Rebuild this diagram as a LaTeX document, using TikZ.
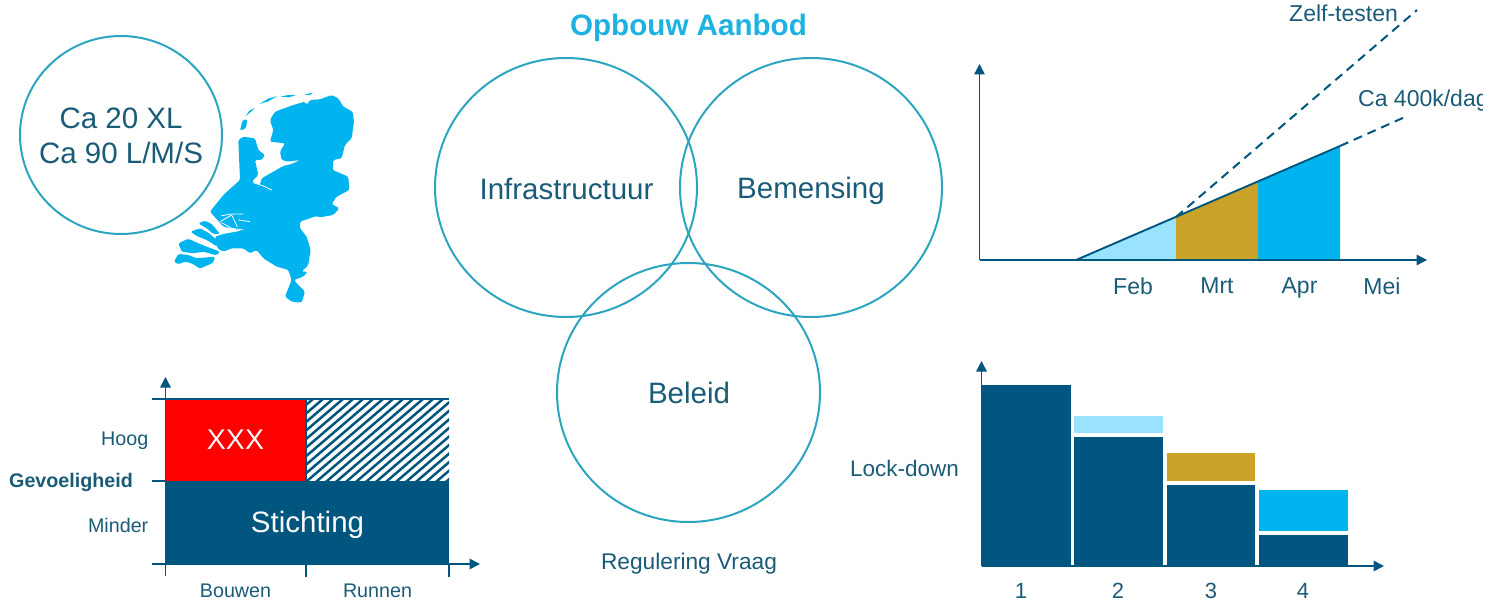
\documentclass[tikz,border=0pt]{standalone}
\usepackage{fontspec}
\setmainfont{Liberation Sans}
\usetikzlibrary{arrows.meta,shapes.geometric}
\definecolor{dark}{HTML}{00567F}
\definecolor{inktext}{HTML}{1A5B78}
\definecolor{ring}{HTML}{2BA5C0}
\definecolor{sky}{HTML}{00B4F0}
\definecolor{pale}{HTML}{99E3FF}
\definecolor{gold}{HTML}{C9A227}
\definecolor{titleblue}{HTML}{1DB2E2}
\newcommand{\fs}[1]{\fontsize{#1}{#1}\selectfont}
\tikzset{
  x=1pt,y=-1pt,
  ringnode/.style={ellipse,draw=ring,line width=2pt,inner sep=0pt},
  lab/.style={inner sep=0pt,text=inktext,font=\fs{#1}},
  axisline/.style={draw=dark,line width=1.5pt},
  axisarrow/.style={axisline,-{Triangle[length=10.5pt,width=10.5pt]}},
  dashline/.style={draw=dark,line width=2pt,dash pattern=on 9pt off 6pt},
  mapfill/.style={fill=sky,draw=none,rounded corners=1.5pt},
  river/.style={draw=white,line width=0.8pt}
}
\begin{document}
\begin{tikzpicture}
\useasboundingbox (0,0) rectangle (1487,604);
% ---- top-left circle
\node[ringnode,minimum width=202pt,minimum height=198pt] (size) at (121,135) {};
\node[lab=29.5,align=center] (sizetext) at (121,136) {Ca 20 XL\\[6pt]Ca 90 L/M/S};
% ---- map
\begin{scope}[shift={(160,80)},x=0.3333pt,y=-0.3333pt]
\path[mapfill] (515,45)--(535,55)--(550,80)--(578,95)--(582,125)--(575,175)--(555,195)--(545,235)--(520,240)--(518,270)--(565,290)--(568,330)--(530,350)--(515,372)--(538,385)--(520,405)--(480,412)--(470,408)--(420,425)--(420,445)--(440,470)--(452,510)--(445,555)--(425,575)--(443,575)--(430,590)--(402,600)--(415,615)--(435,635)--(425,668)--(395,665)--(375,650)--(385,625)--(395,600)--(385,570)--(350,560)--(310,535)--(290,510)--(270,520)--(250,505)--(215,505)--(190,515)--(172,505)--(165,470)--(190,462)--(245,452)--(190,440)--(150,395)--(190,345)--(240,300)--(235,180)--(250,170)--(285,175)--(295,210)--(315,225)--(305,240)--(285,240)--(295,285)--(275,305)--(300,315)--(305,295)--(340,275)--(370,258)--(395,252)--(420,240)--(385,245)--(365,240)--(360,215)--(375,190)--(330,185)--(340,150)--(330,120)--(345,95)--(400,75)--(435,65)--(440,75)--(450,60)--(480,58)--cycle;
\path[mapfill] (240,152)--(248,120)--(262,118)--(258,145)--cycle;
\path[fill=sky] (258,108)--(268,92)--(285,84)--(270,98)--cycle;
\path[fill=sky] (298,72)--(325,56)--(352,48)--(325,64)--cycle;
\path[fill=sky] (362,50)--(385,45)--(408,46)--(385,52)--cycle;
\path[fill=sky] (432,44)--(460,38)--(450,45)--cycle;
\path[mapfill] (115,430)--(135,422)--(155,432)--(180,462)--(160,462)--(140,445)--cycle;
\path[mapfill] (92,455)--(120,445)--(145,458)--(170,480)--(172,500)--(140,480)--(110,468)--cycle;
\path[mapfill] (55,490)--(85,476)--(115,490)--(140,500)--(180,515)--(170,526)--(130,515)--(100,520)--(65,515)--cycle;
\path[mapfill] (42,545)--(55,522)--(85,525)--(110,535)--(165,530)--(160,548)--(120,566)--(95,550)--(75,545)--(55,553)--cycle;
\draw[river] (185,407)--(215,402)--(250,402);
\draw[river] (180,425)--(215,405);
\draw[river] (215,405)--(232,440);
\draw[river] (185,428)--(215,445)--(250,450);
\draw[river] (235,420)--(270,425);
\draw[river] (280,308)--(310,318)--(335,330);
\end{scope}
% ---- centre
\node[lab=29.6,text=titleblue,font=\fs{29.6}\bfseries] (title) at (688.5,28) {Opbouw Aanbod};
\node[ringnode,minimum width=262pt,minimum height=259pt] (infra) at (566,187.5) {};
\node[ringnode,minimum width=262pt,minimum height=259pt] (crew) at (811,187.5) {};
\node[ringnode,minimum width=263pt,minimum height=259pt] (policy) at (688.5,392.5) {};
\node[lab=29.5] (infratext) at (566.5,189) {Infrastructuur};
\node[lab=29.5] (crewtext) at (811,191) {Bemensing};
\node[lab=29.5] (policytext) at (689,393) {Beleid};
\node[lab=22.7] (demand) at (689,564) {Regulering Vraag};
% ---- sensitivity matrix
\fill[red] (165.5,399) rectangle (306,481);
\begin{scope}
\clip (306,399) rectangle (449,481);
\foreach \k in {0,10,...,360}{\draw[dark,line width=2.5pt] (\k+210,393)--(\k+100,487);}
\end{scope}
\fill[dark] (165.5,481) rectangle (449,564);
\coordinate (yb) at (165.5,576);
\coordinate (yt) at (165.5,377);
\coordinate (xl) at (152,564);
\coordinate (xr) at (480,564);
\draw[axisarrow] (yb)--(yt);
\draw[axisarrow] (xl)--(xr);
\draw[axisline] (152,399)--(449,399);
\draw[axisline] (152,481)--(165.5,481);
\draw[axisline] (306,564)--(306,577);
\draw[axisline] (449,564)--(449,577);
\draw[axisline] (306,399)--(306,481);
\node[lab=28.5,text=white!92!gray] (xxx) at (235.5,440) {XXX};
\node[lab=29.5,text=white!95!gray] (stichting) at (307.5,525) {Stichting};
\node[lab=19.7,anchor=east] (hoog) at (148.5,441) {Hoog};
\node[lab=19.7,anchor=east] (minder) at (148.5,525) {Minder};
\node[lab=19.7,font=\fs{19.7}\bfseries,anchor=west] (gev) at (9,482) {Gevoeligheid};
\node[lab=19.7] (bouwen) at (235.5,591) {Bouwen};
\node[lab=19.7] (runnen) at (377.5,591) {Runnen};
% ---- rollout chart
\fill[pale] (1076,260)--(1176,217)--(1176,260)--cycle;
\fill[gold] (1176,217)--(1258,182)--(1258,260)--(1176,260)--cycle;
\fill[sky] (1258,182)--(1340,146)--(1340,260)--(1258,260)--cycle;
\coordinate (o) at (979.5,260);
\coordinate (ytop) at (979.5,64);
\coordinate (xend) at (1427,260);
\draw[axisarrow] (o)--(ytop);
\draw[axisarrow] (o)--(xend);
\coordinate (r0) at (1076,260);
\coordinate (r1) at (1176,217);
\coordinate (r2) at (1340,146);
\coordinate (r3) at (1405,117);
\coordinate (z1) at (1417,10);
\draw[dark,line width=1.9pt] (r0)--(r2);
\draw[dashline] (r1)--(z1);
\draw[dashline] (r2)--(r3);
\node[lab=23,anchor=west] (zelf) at (1289,13) {Zelf-testen};
\begin{scope}
\clip (1340,80) rectangle (1482,125);
\node[lab=23,anchor=west] (ca) at (1358,101) {Ca 400k/dag};
\end{scope}
\node[lab=23] (feb) at (1133,286) {Feb};
\node[lab=23] (mrt) at (1217,286) {Mrt};
\node[lab=23] (apr) at (1299.5,288) {Apr};
\node[lab=23] (mei) at (1382,286) {Mei};
% ---- lock-down bars
\fill[dark] (981.5,385) rectangle (1070.5,566);
\fill[dark] (1074,437) rectangle (1163,566);
\fill[pale] (1074,416) rectangle (1163,432.5);
\fill[dark] (1167,484.5) rectangle (1255,566);
\fill[gold] (1167,452.5) rectangle (1255,481);
\fill[dark] (1258.5,535) rectangle (1347.5,566);
\fill[sky] (1258.5,490) rectangle (1347.5,531);
\coordinate (bo) at (981.5,566);
\coordinate (bt) at (981.5,361);
\coordinate (bx) at (1384,566);
\draw[axisarrow] (bo)--(bt);
\draw[axisarrow] (bo)--(bx);
\node[lab=22.5,anchor=west] (lock) at (850,468) {Lock-down};
\node[lab=22] (n1) at (1021,591) {1};
\node[lab=22] (n2) at (1118,591) {2};
\node[lab=22] (n3) at (1211,591) {3};
\node[lab=22] (n4) at (1303,591) {4};
\end{tikzpicture}
\end{document}
